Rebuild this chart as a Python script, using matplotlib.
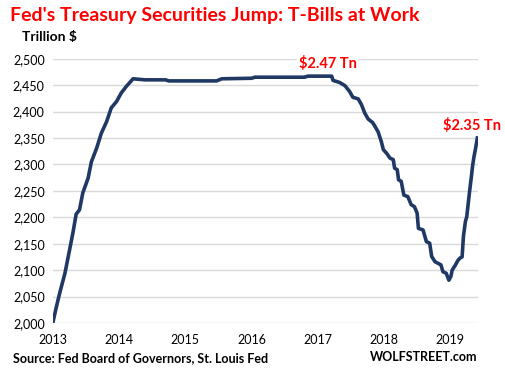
import matplotlib
matplotlib.use("Agg")
import matplotlib.pyplot as plt

plt.rcParams['font.family'] = ['Lato', 'DejaVu Sans']

# weekly treasury securities held (decimal year, billion $)
dates = [2013.00, 2013.05, 2013.10, 2013.18, 2013.25, 2013.30, 2013.35, 2013.40,
         2013.45, 2013.53, 2013.58, 2013.66, 2013.73, 2013.81, 2013.88, 2013.96,
         2014.03, 2014.11, 2014.21, 2014.39, 2014.70, 2014.75, 2015.47, 2015.55,
         2016.00, 2016.05, 2016.80, 2016.85, 2017.21, 2017.23, 2017.33, 2017.41,
         2017.48, 2017.53, 2017.61, 2017.66, 2017.71, 2017.76, 2017.83, 2017.91,
         2017.96, 2017.99, 2018.04, 2018.09, 2018.14, 2018.16, 2018.20, 2018.22,
         2018.26, 2018.30, 2018.36, 2018.41, 2018.46, 2018.50, 2018.52, 2018.59,
         2018.64, 2018.69, 2018.72, 2018.77, 2018.86, 2018.89, 2018.94, 2018.98,
         2019.01, 2019.03, 2019.08, 2019.12, 2019.15, 2019.18, 2019.20, 2019.23,
         2019.25, 2019.29, 2019.32, 2019.34, 2019.36, 2019.38, 2019.41]
values = [2002, 2030, 2056, 2094, 2138, 2170, 2206, 2214,
          2246, 2274, 2305, 2331, 2359, 2381, 2407, 2419,
          2435, 2448, 2462, 2460, 2460, 2458, 2458, 2462,
          2463, 2465, 2465, 2467, 2467, 2459, 2455, 2449,
          2438, 2427, 2424, 2413, 2397, 2386, 2379, 2362,
          2343, 2328, 2321, 2312, 2309, 2293, 2290, 2271,
          2268, 2242, 2239, 2224, 2220, 2208, 2179, 2176,
          2154, 2151, 2126, 2116, 2110, 2097, 2094, 2081,
          2088, 2100, 2110, 2119, 2123, 2125, 2164, 2192,
          2201, 2246, 2277, 2299, 2315, 2328, 2350]

years = [2013, 2014, 2015, 2016, 2017, 2018, 2019]
yticks = list(range(2000, 2501, 50))

navy = '#1F3864'
red = '#FF0000'

fig = plt.figure(figsize=(5.05, 3.70), dpi=100)
ax = fig.add_axes([53/505, 1-323/370, (478-53)/505, (323-58.7)/370])

for v in yticks:
    ax.axhline(v, color='#D9D9D9', lw=1, zorder=1)
ax.plot(dates, values, color=navy, lw=2.6, zorder=3, solid_joinstyle='round')

ax.set_xlim(2013.0, 2019.42)
ax.set_ylim(2000, 2500)
ax.set_xticks(years)
ax.set_xticklabels([str(y) for y in years], fontsize=9)
ax.set_yticks(yticks)
ax.set_yticklabels([f'{v:,}' for v in yticks], fontsize=9)
ax.tick_params(length=0, pad=6)
ax.tick_params(axis='x', pad=8)
for s in ax.spines.values():
    s.set_visible(False)

ax.text(2017.15, 2491, '$2.47 Tn', color=red, fontsize=10.5, fontweight='bold',
        ha='center', va='center', zorder=4,
        bbox=dict(facecolor='white', edgecolor='none', pad=1))
ax.text(2019.33, 2373, '$2.35 Tn', color=red, fontsize=10.5, fontweight='bold',
        ha='center', va='center', zorder=4,
        bbox=dict(facecolor='white', edgecolor='none', pad=1))

fig.text(10/505, 1-16/370, "Fed's Treasury Securities Jump: T-Bills at Work",
         color=red, fontsize=14, fontweight='bold', ha='left', va='center')
fig.text(22/505, 1-37/370, 'Trillion $', color='black', fontsize=10,
         fontweight='bold', ha='left', va='center')
fig.text(13/505, 1-358/370, 'Source: Fed Board of Governors, St. Louis Fed',
         color='black', fontsize=9, fontweight='bold', ha='left', va='center')
fig.text(477/505, 1-357/370, 'WOLFSTREET.com', color='black', fontsize=9,
         fontweight='bold', ha='right', va='center')

fig.savefig('out.png', dpi=100)
